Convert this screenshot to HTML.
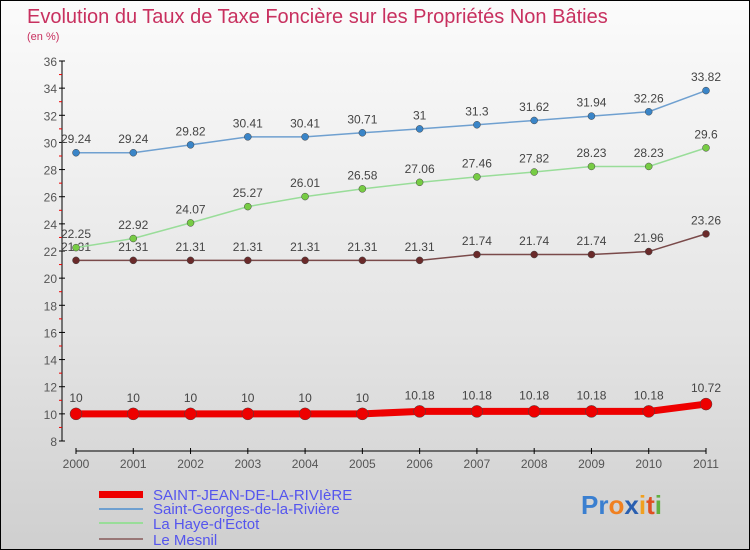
<!DOCTYPE html>
<html><head><meta charset="utf-8"><style>
body{margin:0}
#c{position:relative;width:748px;height:548px;border:1px solid #000;background:linear-gradient(#fbfbfb,#e4e4e4 60%,#cfcfcf);font-family:"Liberation Sans",sans-serif;overflow:hidden}
</style></head><body>
<div id="c">
<svg id="s" width="748" height="548">
<text x="26" y="22" font-size="20" fill="#c8305f">Evolution du Taux de Taxe Foncière sur les Propriétés Non Bâties</text>
<text x="26" y="39" font-size="11" fill="#c8305f">(en %)</text>
<g id="ax"></g><g id="series"></g>
<g font-size="15" fill="#5555ee">
<rect x="98" y="490" width="44" height="7" fill="#e00"/>
<text x="152" y="499">SAINT-JEAN-DE-LA-RIVIèRE</text>
<rect x="98" y="507" width="44" height="2" fill="#6fa0d0"/>
<text x="152" y="513">Saint-Georges-de-la-Rivière</text>
<rect x="98" y="521" width="44" height="2" fill="#9d9"/>
<text x="152" y="528">La Haye-d'Ectot</text>
<rect x="98" y="537" width="44" height="2" fill="#977"/>
<text x="152" y="544">Le Mesnil</text>
</g>
<g font-size="26" font-weight="bold">
<text x="580" y="513"><tspan fill="#3a7fd0">Pr</tspan><tspan fill="#f08020">o</tspan><tspan fill="#2a5fb0">x</tspan><tspan fill="#f0a020">i</tspan><tspan fill="#e05020">t</tspan><tspan fill="#60b040">i</tspan></text>
</g>
</svg></div>
<script>
const years=[2000,2001,2002,2003,2004,2005,2006,2007,2008,2009,2010,2011];
const yTicks=[8,10,12,14,16,18,20,22,24,26,28,30,32,34,36];
const sj=[10,10,10,10,10,10,10.18,10.18,10.18,10.18,10.18,10.72];
const sg=[29.24,29.24,29.82,30.41,30.41,30.71,31,31.3,31.62,31.94,32.26,33.82];
const lh=[22.25,22.92,24.07,25.27,26.01,26.58,27.06,27.46,27.82,28.23,28.23,29.6];
const lm=[21.31,21.31,21.31,21.31,21.31,21.31,21.31,21.74,21.74,21.74,21.96,23.26];
const NS="http://www.w3.org/2000/svg";
const X=i=>75+i*(630/11), Y=v=>440-(v-8)*(380/28);
function mk(p,t,a){const e=document.createElementNS(NS,t);for(const k in a)e.setAttribute(k,a[k]);p.appendChild(e);return e;}
const ax=document.getElementById('ax');
let l=mk(ax,'line',{x1:61,y1:60,x2:61,y2:440,stroke:'#000'});

l=mk(ax,'line',{x1:75,y1:450,x2:705,y2:450,stroke:'#000'});

yTicks.forEach(v=>{mk(ax,'line',{x1:58,x2:64,y1:Y(v),y2:Y(v),stroke:'#000'});
 if(v<36)mk(ax,'line',{x1:58,x2:61,y1:Y(v+1),y2:Y(v+1),stroke:'#e00'});
 const t=mk(ax,'text',{x:56,y:Y(v)+5,'text-anchor':'end','font-size':12,fill:'#555'});t.textContent=v;
 });
years.forEach((y,i)=>{mk(ax,'line',{x1:X(i),x2:X(i),y1:447,y2:453,stroke:'#000'});
 const t=mk(ax,'text',{x:X(i),y:467,'text-anchor':'middle','font-size':12,fill:'#555'});t.textContent=y;
 });
const sg_=document.getElementById('series');
function draw(vals,name,line,fill,w,r){
 const g=mk(sg_,'g',{});
 const p=mk(g,'polyline',{points:vals.map((v,i)=>X(i)+','+Y(v)).join(' '),fill:'none',stroke:line,'stroke-width':w});
 
 vals.forEach((v,i)=>{const c=mk(g,'circle',{cx:X(i),cy:Y(v),r:r,fill:fill,stroke:'#444','stroke-width':0.5});
  
  const t=mk(g,'text',{x:X(i),y:Y(v)-(r+6),'text-anchor':'middle','font-size':12,fill:'#444'});t.textContent=v;
  });
}
draw(lm,'le-mesnil','#7a4a4a','#6a2a2a',1.5,3.5);
draw(lh,'la-haye','#9d9','#7c4',1.5,3.5);
draw(sg,'saint-georges','#6fa0d0','#3a85c8',1.5,3.5);
draw(sj,'saint-jean','#e00','#e00',7,6);
</script>
</body></html>
